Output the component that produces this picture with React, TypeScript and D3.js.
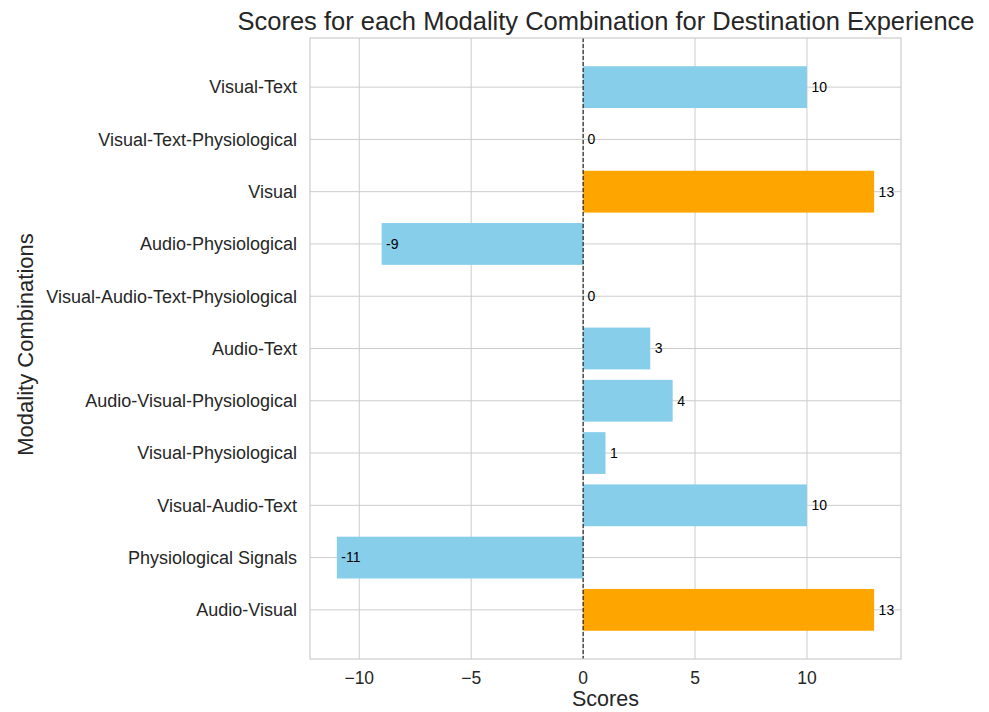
import React from "react";
import * as d3 from "d3";

const categories = [
  "Audio-Visual",
  "Physiological Signals",
  "Visual-Audio-Text",
  "Visual-Physiological",
  "Audio-Visual-Physiological",
  "Audio-Text",
  "Visual-Audio-Text-Physiological",
  "Audio-Physiological",
  "Visual",
  "Visual-Text-Physiological",
  "Visual-Text",
];
const scores = [13, -11, 10, 1, 4, 3, 0, -9, 13, 0, 10];
const xTicks = [-10, -5, 0, 5, 10];

const W = 989, H = 712;
const left = 310, right = 901, top = 38, bottom = 659;
const font = "'Liberation Sans', Arial, sans-serif";

export default function App() {
  const maxV = d3.max(scores) as number;
  const minV = d3.min(scores) as number;
  const pad = (maxV - minV) * 0.05;
  const x = d3.scaleLinear().domain([minV - pad, maxV + pad]).range([left, right]);
  const n = categories.length;
  const ypad = (n - 1 + 0.8) * 0.05;
  const y = d3.scaleLinear().domain([-0.4 - ypad, n - 1 + 0.4 + ypad]).range([bottom, top]);
  const bh = Math.abs(y(0.4) - y(-0.4));
  return (
    <svg width={W} height={H} style={{ position: "absolute", left: 0, top: 0 }}>
      <rect x={0} y={0} width={W} height={H} fill="#fff" />
      {xTicks.map((t) => (
        <line key={"gx" + t} x1={x(t)} x2={x(t)} y1={top} y2={bottom} stroke="#cccccc" strokeWidth={1} />
      ))}
      {categories.map((c, i) => (
        <line key={"gy" + i} x1={left} x2={right} y1={y(i)} y2={y(i)} stroke="#cccccc" strokeWidth={1} />
      ))}
      {scores.map((v, i) => (
        <rect
          key={"b" + i}
          x={x(Math.min(0, v))}
          y={y(i) - bh / 2}
          width={Math.abs(x(v) - x(0))}
          height={bh}
          fill={v === maxV ? "#FFA500" : "#87CEEB"}
        />
      ))}
      <line x1={x(0)} x2={x(0)} y1={top} y2={bottom} stroke="#000" strokeWidth={1} strokeDasharray="4,2" />
      {scores.map((v, i) => (
        <text key={"l" + i} x={x(v + 0.2)} y={y(i)} dy="0.35em" fontSize={14} fontFamily={font} fill="#000">
          {String(v)}
        </text>
      ))}
      <rect x={left} y={top} width={right - left} height={bottom - top} fill="none" stroke="#cccccc" strokeWidth={1.2} />
      {xTicks.map((t) => (
        <text key={"tx" + t} x={x(t)} y={684} textAnchor="middle" fontSize={17.5} fontFamily={font} fill="#262626">
          {t < 0 ? "\u2212" + Math.abs(t) : String(t)}
        </text>
      ))}
      {categories.map((c, i) => (
        <text key={"ty" + i} x={left - 13} y={y(i)} dy="0.35em" textAnchor="end" fontSize={18} fontFamily={font} fill="#262626">
          {c}
        </text>
      ))}
      <text x={(left + right) / 2} y={706} textAnchor="middle" fontSize={21.5} fontFamily={font} fill="#262626">
        Scores
      </text>
      <text
        transform={`translate(33,${(top + bottom) / 2 - 4}) rotate(-90)`}
        textAnchor="middle"
        fontSize={22}
        fontFamily={font}
        fill="#262626"
      >
        Modality Combinations
      </text>
      <text x={606} y={30} textAnchor="middle" fontSize={25.5} fontFamily={font} fill="#262626">
        Scores for each Modality Combination for Destination Experience
      </text>
    </svg>
  );
}
